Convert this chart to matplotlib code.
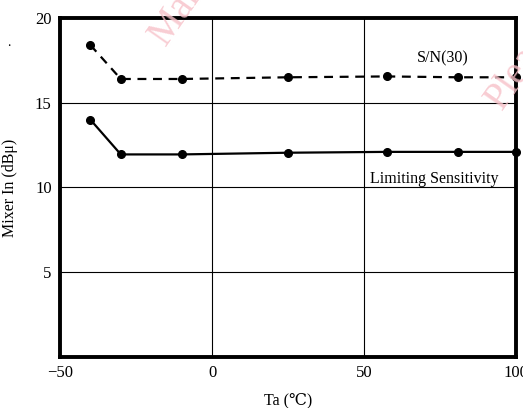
import matplotlib
matplotlib.use("Agg")
import matplotlib.pyplot as plt

plt.rcParams['font.family'] = ['Liberation Serif', 'DejaVu Serif', 'DejaVu Sans']

temps = [-40, -30, -10, 25, 57.5, 81, 100]
sn30 = [18.4, 16.4, 16.4, 16.5, 16.55, 16.5, 16.5]
limiting = [14.0, 11.95, 11.95, 12.05, 12.1, 12.1, 12.1]
xticks = [-50, 0, 50, 100]
xticklabels = ['\u221250', '0', '50', '100']
yticks = [5, 10, 15, 20]

fig = plt.figure(figsize=(5.23, 4.08), dpi=100)
ax = fig.add_axes([0.1147, 0.125, 0.872, 0.831])
ax.set_xlim(-50, 100)
ax.set_ylim(0, 20)

ax.plot(temps, sn30, color='black', linestyle=(0, (4, 3)), linewidth=1.6,
        marker='o', markersize=5.5, clip_on=False, zorder=3)
ax.plot(temps, limiting, color='black', linestyle='-', linewidth=1.6,
        marker='o', markersize=5.5, clip_on=False, zorder=3)

ax.set_xticks(xticks)
ax.set_xticklabels(xticklabels)
ax.set_yticks(yticks)
ax.tick_params(length=0, labelsize=12, pad=6)
ax.grid(True, color='black', linewidth=0.8)
for s in ax.spines.values():
    s.set_linewidth(2.8)

ax.text(76, 17.15, 'S/N(30)', fontsize=11.5, ha='center', va='bottom')
ax.text(73, 10.5, 'Limiting Sensitivity', fontsize=11.5, ha='center', va='center')

ax.set_xlabel('Ta (\u2103)', fontsize=11.5, labelpad=8)
ax.set_ylabel('Mixer In (dB\u03bc)', fontsize=11.5, labelpad=12)

fig.text(0.016, 0.888, '.', fontsize=10, ha='center')

fig.text(0.39, 1.06, 'Marketing', fontsize=28, color='#f7c0c8', rotation=55,
         ha='center', va='center', zorder=0, alpha=0.8)
fig.text(1.0, 0.84, 'Please', fontsize=28, color='#f7c0c8', rotation=55,
         ha='center', va='center', zorder=0, alpha=0.8)

fig.savefig('out.png', dpi=100)
